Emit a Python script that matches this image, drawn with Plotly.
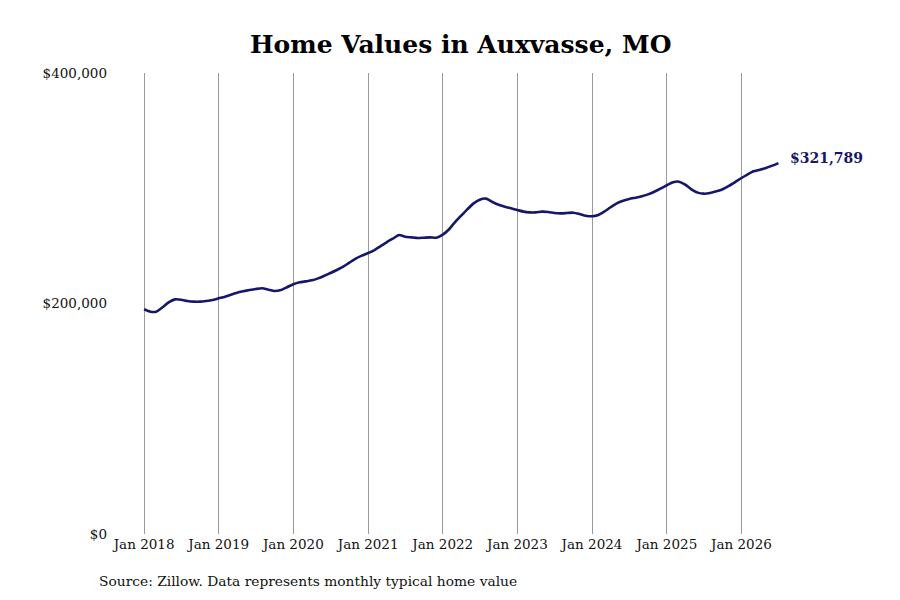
import plotly.graph_objects as go
import pandas as pd

# -------------------------------
# Data (monthly typical home value)
# -------------------------------

start_month = "2018-01-01"

home_values = [
    195000, 192900, 192900, 196700, 201000, 203600, 203300, 202200, 201600, 201600, 202200, 203000,  # 2018
    204500, 205900, 207600, 209400, 210600, 211700, 212600, 213200, 212000, 210800, 211700, 214100,  # 2019
    216700, 218400, 219200, 220100, 221800, 224100, 226500, 229100, 231900, 235400, 238900, 241500,  # 2020
    243800, 246400, 249600, 253100, 256200, 259400, 258000, 257400, 256800, 257100, 257400, 257100,  # 2021
    259700, 264400, 270400, 276200, 281700, 286900, 290100, 291000, 288100, 285700, 284000, 282600,  # 2022
    281100, 279700, 279100, 279100, 279700, 279400, 278500, 278200, 278500, 278800, 277700, 276200,  # 2023
    275700, 276800, 279700, 283500, 286900, 289200, 290700, 291800, 293000, 294700, 297000, 299600,  # 2024
    302600, 305200, 305700, 303100, 299100, 296200, 295300, 295900, 297300, 299100, 302000, 305400,  # 2025
    308900, 312100, 314700, 316100, 317600, 319600, 321789,                                          # 2026
]

dates = pd.date_range(start_month, periods=len(home_values), freq="MS")

tick_vals = pd.date_range("2018-01-01", "2026-01-01", freq="YS")
tick_text = [f"Jan {d.year}" for d in tick_vals]

y_ticks = [0, 200000, 400000]
y_tick_text = ["$0", "$200,000", "$400,000"]

title_text = "Home Values in Auxvasse, MO"
source_text = "Source: Zillow. Data represents monthly typical home value"

line_color = "#16166b"
serif = "DejaVu Serif"

# -------------------------------
# Figure
# -------------------------------

fig = go.Figure()

fig.add_trace(
    go.Scatter(
        x=dates,
        y=home_values,
        mode="lines",
        line=dict(color=line_color, width=2.6, shape="spline", smoothing=0.6),
        hoverinfo="skip",
        showlegend=False,
    )
)

# end label
fig.add_annotation(
    x=dates[-1],
    y=home_values[-1],
    text=f"<b>${home_values[-1]:,}</b>",
    showarrow=False,
    xanchor="left",
    yanchor="middle",
    xshift=10,
    yshift=5,
    font=dict(family=serif, size=14, color=line_color),
)

# source note
fig.add_annotation(
    xref="paper",
    yref="paper",
    x=-0.0201,
    y=-0.102,
    xanchor="left",
    yanchor="middle",
    text=source_text,
    showarrow=False,
    font=dict(family=serif, size=13.8, color="#111111"),
)

# -------------------------------
# Layout
# -------------------------------

fig.update_layout(
    width=900,
    height=600,
    paper_bgcolor="white",
    plot_bgcolor="white",
    margin=dict(l=104, r=48, t=65, b=74),
    title=dict(
        text=f"<b>{title_text}</b>",
        x=0.503,
        xanchor="center",
        y=0.94,
        yanchor="middle",
        font=dict(family=serif, size=25, color="black"),
    ),
    xaxis=dict(
        range=["2017-07-28", "2027-08-04"],
        tickvals=tick_vals,
        ticktext=tick_text,
        showgrid=True,
        gridcolor="#9a9a9a",
        gridwidth=1,
        zeroline=False,
        showline=False,
        ticks="",
        tickfont=dict(family=serif, size=13.5, color="#111111"),
    ),
    yaxis=dict(
        range=[0, 400000],
        tickvals=y_ticks,
        ticktext=y_tick_text,
        showgrid=False,
        zeroline=False,
        showline=False,
        ticks="",
        ticklabelstandoff=4,
        tickfont=dict(family=serif, size=13.5, color="#111111"),
    ),
)

fig.write_html("out.html")
